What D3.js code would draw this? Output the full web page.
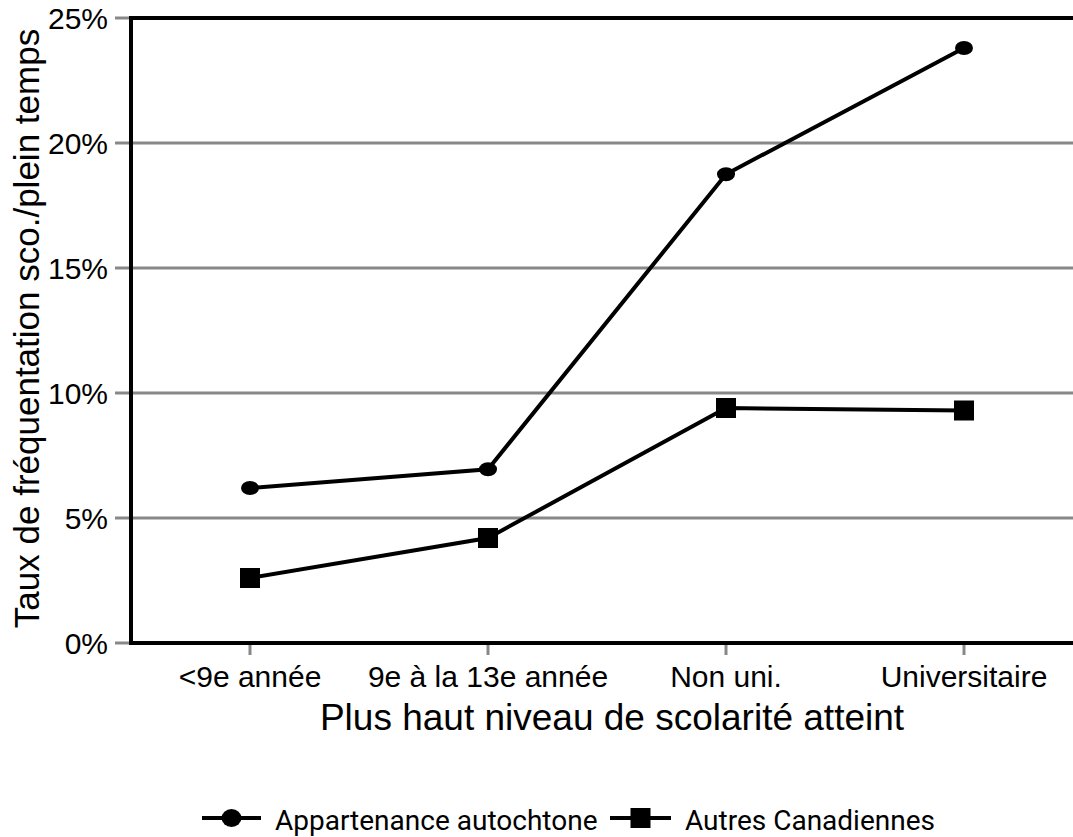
<!DOCTYPE html>
<html>
<head>
<meta charset="utf-8">
<script src="https://cdn.jsdelivr.net/npm/d3@7"></script>
<style>
body { margin: 0; background: #fff; }
svg { display: block; font-family: "Liberation Sans", Arial, sans-serif; }
</style>
</head>
<body>
<svg id="chart" width="1073" height="837"></svg>
<script>
const categories = ["<9e année", "9e à la 13e année", "Non uni.", "Universitaire"];
const autochtone = [6.2, 6.95, 18.75, 23.8];
const autres = [2.6, 4.2, 9.4, 9.3];
const yTicks = [0, 5, 10, 15, 20, 25];
const seriesNames = ["Appartenance autochtone", "Autres Canadiennes"];

const svg = d3.select("#chart");
const margin = { left: 131, top: 18, right: -10, bottom: 194 };
const width = 1073, height = 837;

const x = d3.scalePoint()
    .domain(categories)
    .range([margin.left, width - margin.right])
    .padding(0.5);
const y = d3.scaleLinear()
    .domain([0, 25])
    .range([height - margin.bottom, margin.top]);

// grid
svg.append("g")
    .selectAll("line")
    .data(yTicks.filter(d => d > 0 && d < 25))
    .join("line")
    .attr("x1", margin.left)
    .attr("x2", width)
    .attr("y1", d => y(d))
    .attr("y2", d => y(d))
    .attr("stroke", "#888")
    .attr("stroke-width", 3);

// y ticks + labels
const yAxis = svg.append("g");
yAxis.selectAll("line")
    .data(yTicks)
    .join("line")
    .attr("x1", margin.left - 16)
    .attr("x2", margin.left)
    .attr("y1", d => y(d))
    .attr("y2", d => y(d))
    .attr("stroke", "#888")
    .attr("stroke-width", 3);
yAxis.selectAll("text")
    .data(yTicks)
    .join("text")
    .attr("x", margin.left - 23)
    .attr("y", d => y(d))
    .attr("dy", "0.36em")
    .attr("text-anchor", "end")
    .attr("font-size", 30)
    .text(d => d + "%");

// x ticks + labels
const xAxis = svg.append("g");
xAxis.selectAll("line")
    .data(categories)
    .join("line")
    .attr("x1", d => x(d))
    .attr("x2", d => x(d))
    .attr("y1", y(0))
    .attr("y2", y(0) + 12)
    .attr("stroke", "#888")
    .attr("stroke-width", 3);
xAxis.selectAll("text")
    .data(categories)
    .join("text")
    .attr("x", d => x(d))
    .attr("y", y(0) + 44)
    .attr("text-anchor", "middle")
    .attr("font-size", 30)
    .text(d => d);

// frame lines
svg.append("line")
    .attr("x1", margin.left).attr("x2", width)
    .attr("y1", y(25)).attr("y2", y(25))
    .attr("stroke", "#000").attr("stroke-width", 4);
svg.append("line")
    .attr("x1", margin.left).attr("x2", width)
    .attr("y1", y(0)).attr("y2", y(0))
    .attr("stroke", "#000").attr("stroke-width", 4);
svg.append("line")
    .attr("x1", margin.left).attr("x2", margin.left)
    .attr("y1", y(25) - 2).attr("y2", y(0) + 2)
    .attr("stroke", "#000").attr("stroke-width", 4);

// titles
svg.append("text")
    .attr("transform", `translate(39,${(y(0) + y(25)) / 2 - 2}) rotate(-90)`)
    .attr("text-anchor", "middle")
    .attr("font-size", 35)
    .text("Taux de fréquentation sco./plein temps");
svg.append("text")
    .attr("x", 612)
    .attr("y", 730)
    .attr("text-anchor", "middle")
    .attr("font-size", 37)
    .text("Plus haut niveau de scolarité atteint");

// lines
const line = d3.line()
    .x((d, i) => x(categories[i]))
    .y(d => y(d));

svg.append("path")
    .datum(autochtone)
    .attr("d", line)
    .attr("fill", "none")
    .attr("stroke", "#000")
    .attr("stroke-width", 4);
svg.append("path")
    .datum(autres)
    .attr("d", line)
    .attr("fill", "none")
    .attr("stroke", "#000")
    .attr("stroke-width", 4);

svg.append("g")
    .selectAll("ellipse")
    .data(autochtone)
    .join("ellipse")
    .attr("cx", (d, i) => x(categories[i]))
    .attr("cy", d => y(d))
    .attr("rx", 9)
    .attr("ry", 7)
    .attr("fill", "#000");
svg.append("g")
    .selectAll("rect")
    .data(autres)
    .join("rect")
    .attr("x", (d, i) => x(categories[i]) - 10)
    .attr("y", d => y(d) - 10)
    .attr("width", 20)
    .attr("height", 20)
    .attr("fill", "#000");

// legend
const legendY = 818;
const legend = svg.append("g").attr("font-family", "Roboto, sans-serif").attr("font-size", 28);
const items = [
    { name: seriesNames[0], x0: 202, x1: 261, textX: 275, shape: "circle" },
    { name: seriesNames[1], x0: 610, x1: 671, textX: 685, shape: "square" }
];
items.forEach(it => {
    legend.append("line")
        .attr("x1", it.x0).attr("x2", it.x1)
        .attr("y1", legendY).attr("y2", legendY)
        .attr("stroke", "#000").attr("stroke-width", 4);
    const cx = (it.x0 + it.x1) / 2;
    if (it.shape === "circle") {
        legend.append("ellipse")
            .attr("cx", cx).attr("cy", legendY)
            .attr("rx", 10).attr("ry", 9).attr("fill", "#000");
    } else {
        legend.append("rect")
            .attr("x", cx - 10).attr("y", legendY - 10)
            .attr("width", 20).attr("height", 20).attr("fill", "#000");
    }
    legend.append("text")
        .attr("x", it.textX)
        .attr("y", legendY + 12)
        .text(it.name);
});
</script>
</body>
</html>
